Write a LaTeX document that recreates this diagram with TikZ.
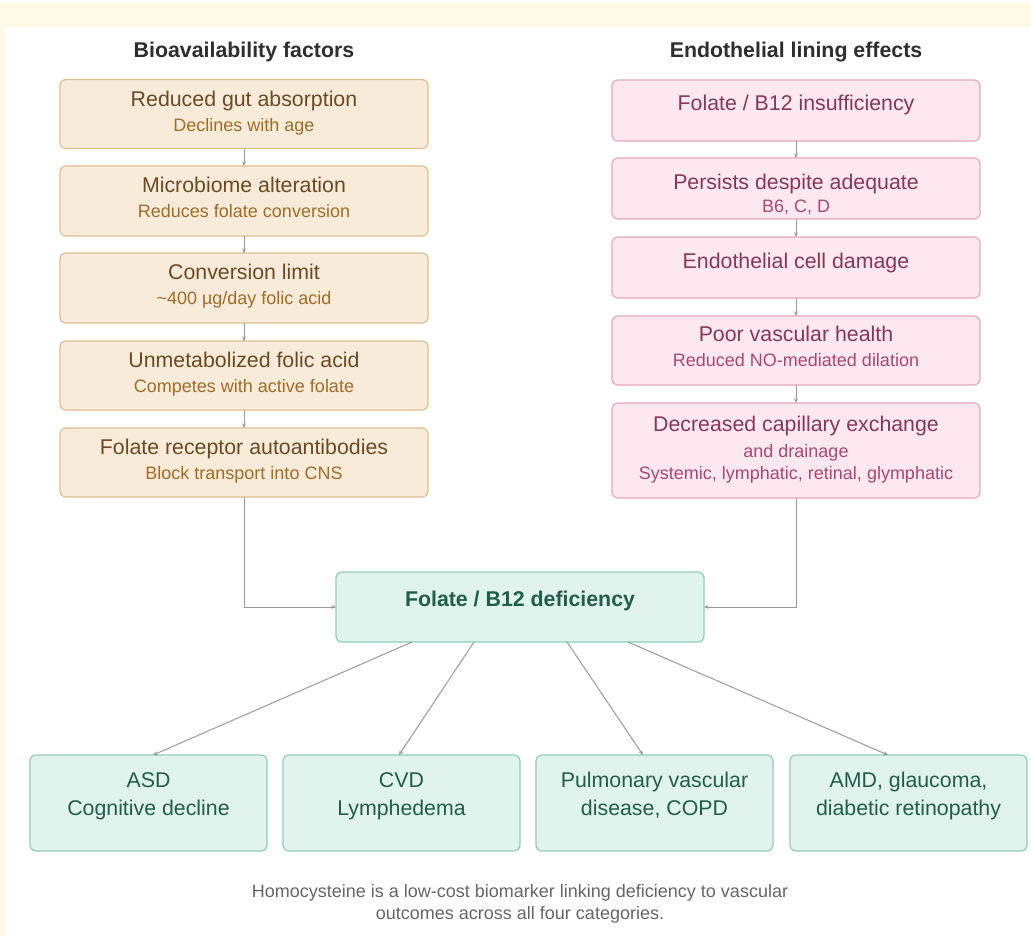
\documentclass[tikz,border=0pt]{standalone}
\usepackage{fontspec}
\setmainfont{Liberation Sans}
\usetikzlibrary{calc,arrows.meta}

\definecolor{creamback}{RGB}{255,249,230}
\definecolor{lfill}{RGB}{249,235,217}
\definecolor{ldraw}{RGB}{222,190,146}
\definecolor{ltext}{RGB}{107,74,34}
\definecolor{lsub}{RGB}{160,108,38}
\definecolor{rfill}{RGB}{252,232,238}
\definecolor{rdraw}{RGB}{228,168,188}
\definecolor{rtext}{RGB}{135,55,88}
\definecolor{rsub}{RGB}{170,72,112}
\definecolor{gfill}{RGB}{224,243,236}
\definecolor{gdraw}{RGB}{148,205,183}
\definecolor{gtext}{RGB}{31,94,75}
\definecolor{headtext}{RGB}{46,46,46}
\definecolor{linkgray}{RGB}{154,154,154}
\definecolor{notetext}{RGB}{102,102,102}

\tikzset{
  box/.style={line width=0.9pt, rounded corners=4.5pt, inner sep=0pt, outer sep=0pt, minimum width=276pt},
  lbox/.style={box, draw=ldraw, fill=lfill},
  rbox/.style={box, draw=rdraw, fill=rfill},
  gbox/.style={box, draw=gdraw, fill=gfill},
  obox/.style={box, draw=gdraw, fill=gfill, minimum width=177.75pt, minimum height=72pt},
  txt/.style={anchor=base, inner sep=0pt, outer sep=0pt},
  big/.style={txt, font=\fontsize{16}{19}\selectfont},
  small/.style={txt, font=\fontsize{13.5}{16}\selectfont},
  link/.style={draw=linkgray, line width=0.75pt, -{Stealth[length=3.5pt,width=3pt]}}
}

\begin{document}
\begin{tikzpicture}[x=0.75pt,y=0.75pt,yscale=-1,xscale=1]
%Background
\path[use as bounding box, fill=white] (0,0) rectangle (1031,936);
\fill[creamback] (0,3) rectangle (1031,936);
\fill[white] (5,27) rectangle (1031,936);

%Column headings
\node[big, font=\fontsize{16}{19}\selectfont\bfseries, text=headtext] (lhead) at (244,57) {Bioavailability factors};
\node[big, font=\fontsize{16}{19}\selectfont\bfseries, text=headtext] (rhead) at (796,57) {Endothelial lining effects};

%Left column: bioavailability
\node[lbox, minimum height=51.75pt] (L1) at (244,114) {};
\node[big, text=ltext] (L1t) at (244,106) {Reduced gut absorption};
\node[small, text=lsub] (L1s) at (244,131) {Declines with age};

\node[lbox, minimum height=52.5pt] (L2) at (244,201) {};
\node[big, text=ltext] (L2t) at (244,192) {Microbiome alteration};
\node[small, text=lsub] (L2s) at (244,217) {Reduces folate conversion};

\node[lbox, minimum height=52.5pt] (L3) at (244,288) {};
\node[big, text=ltext] (L3t) at (244,279) {Conversion limit};
\node[small, text=lsub] (L3s) at (244,304) {\textasciitilde400 µg/day folic acid};

\node[lbox, minimum height=51.75pt] (L4) at (244,375.5) {};
\node[big, text=ltext] (L4t) at (244,367) {Unmetabolized folic acid};
\node[small, text=lsub] (L4s) at (244,392) {Competes with active folate};

\node[lbox, minimum height=51.75pt] (L5) at (244,462.5) {};
\node[big, text=ltext] (L5t) at (244,454) {Folate receptor autoantibodies};
\node[small, text=lsub] (L5s) at (244,479) {Block transport into CNS};

%Right column: endothelial lining
\node[rbox, minimum height=45.75pt] (R1) at (796,110.5) {};
\node[big, text=rtext] (R1t) at (796,110) {Folate / B12 insufficiency};

\node[rbox, minimum height=45.75pt] (R2) at (796,188.5) {};
\node[big, text=rtext] (R2t) at (796,189) {Persists despite adequate};
\node[small, text=rsub] (R2s) at (796,212) {B6, C, D};

\node[rbox, minimum height=45.75pt] (R3) at (796,267.5) {};
\node[big, text=rtext] (R3t) at (796,268) {Endothelial cell damage};

\node[rbox, minimum height=51.75pt] (R4) at (796,350.5) {};
\node[big, text=rtext] (R4t) at (796,341) {Poor vascular health};
\node[small, text=rsub] (R4s) at (796,366) {Reduced NO-mediated dilation};

\node[rbox, minimum height=71.25pt] (R5) at (796,450.5) {};
\node[big, text=rtext] (R5t) at (796,431) {Decreased capillary exchange};
\node[small, text=rsub] (R5s) at (796,457) {and drainage};
\node[small, text=rsub] (R5u) at (796,479) {Systemic, lymphatic, retinal, glymphatic};

%Centre: deficiency
\node[gbox, minimum height=52.5pt] (def) at (520,607) {};
\node[big, font=\fontsize{16}{19}\selectfont\bfseries, text=gtext] (deft) at (520,606) {Folate / B12 deficiency};

%Outcomes
\node[obox] (O1) at (148.5,803) {};
\node[big, text=gtext] (O1t) at (148.5,787) {ASD};
\node[big, text=gtext] (O1s) at (148.5,815) {Cognitive decline};

\node[obox] (O2) at (401.5,803) {};
\node[big, text=gtext] (O2t) at (401.5,787) {CVD};
\node[big, text=gtext] (O2s) at (401.5,815) {Lymphedema};

\node[obox] (O3) at (654.5,803) {};
\node[big, text=gtext] (O3t) at (654.5,787) {Pulmonary vascular};
\node[big, text=gtext] (O3s) at (654.5,815) {disease, COPD};

\node[obox] (O4) at (908.5,803) {};
\node[big, text=gtext] (O4t) at (908.5,787) {AMD, glaucoma,};
\node[big, text=gtext] (O4s) at (908.5,815) {diabetic retinopathy};

%Note
\node[small, text=notetext] (note1) at (520,897) {Homocysteine is a low-cost biomarker linking deficiency to vascular};
\node[small, text=notetext] (note2) at (520,919) {outcomes across all four categories.};

%Connectors
\draw[link] (L1) -- (L2);
\draw[link] (L2) -- (L3);
\draw[link] (L3) -- (L4);
\draw[link] (L4) -- (L5);
\draw[link] (R1) -- (R2);
\draw[link] (R2) -- (R3);
\draw[link] (R3) -- (R4);
\draw[link] (R4) -- (R5);
\draw[link] (L5.south) |- (def.west);
\draw[link] (R5.south) |- (def.east);
\draw[link] ($(def.south)+(-108,0)$) -- ($(O1.north)+(4.5,0)$);
\draw[link] ($(def.south)+(-46,0)$) -- ($(O2.north)+(-2.5,0)$);
\draw[link] ($(def.south)+(47,0)$) -- ($(O3.north)+(-11.5,0)$);
\draw[link] ($(def.south)+(108,0)$) -- ($(O4.north)+(-20.5,0)$);
\end{tikzpicture}
\end{document}
